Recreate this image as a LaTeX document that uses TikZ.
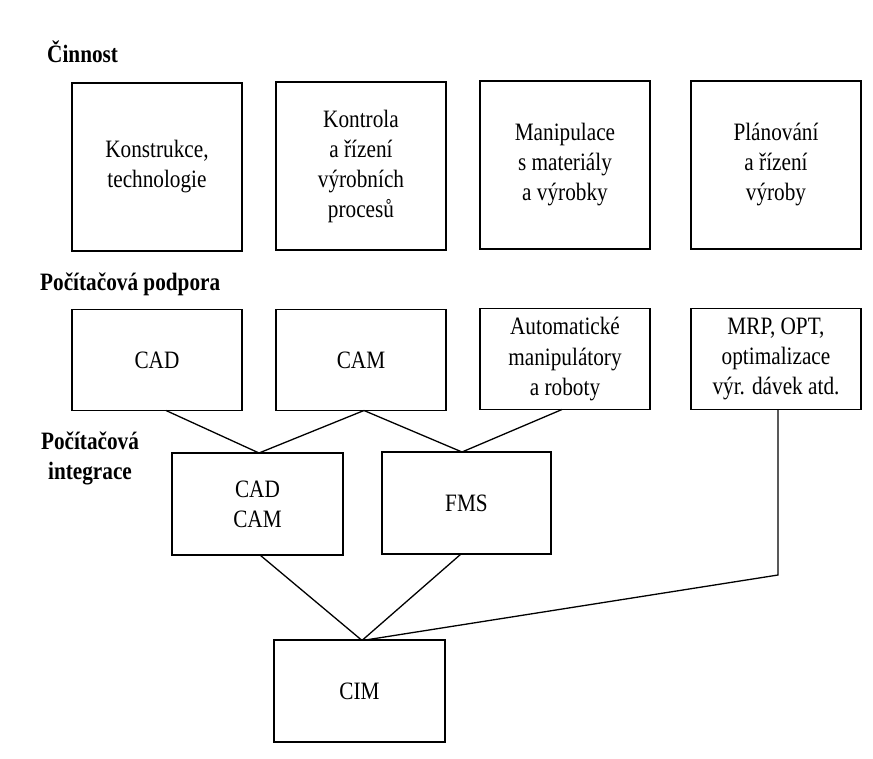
\documentclass[tikz,border=0pt]{standalone}
\usepackage{fontspec}
\setmainfont{Liberation Serif}[FakeStretch=0.85]
\begin{document}
\begin{tikzpicture}[x=1pt,y=-1pt,
  box/.style={draw, line width=1.4pt, align=center, inner sep=0pt, outer sep=0pt,
    font=\fontsize{25}{30}\selectfont},
  tallbox/.style={box, minimum width=170pt, minimum height=168pt},
  lowbox/.style={box, minimum width=170pt, minimum height=101pt},
  heading/.style={font=\fontsize{25}{30}\selectfont\bfseries, inner sep=0pt, align=center},
  link/.style={line width=1.3pt}]
\useasboundingbox (0,0) rectangle (873,758);

% section headings
\node[heading, anchor=base west] (h1) at (47,62) {Činnost};
\node[heading, anchor=base west] (h2) at (40,290) {Počítačová podpora};
\node[heading] (h3) at (90,458) {Počítačová\\integrace};

% activities
\node[tallbox] (konstr) at (157,167) {Konstrukce,\\technologie};
\node[tallbox] (kontr) at (361,166) {Kontrola\\a řízení\\výrobních\\procesů};
\node[tallbox] (manip) at (565,165) {Manipulace\\s materiály\\a výrobky};
\node[tallbox] (plan) at (776,165) {Plánování\\a řízení\\výroby};

% computer support
\node[lowbox] (cad) at (157,360) {CAD};
\node[lowbox] (cam) at (361,360) {CAM};
\node[lowbox] (auto) at (565,359) {Automatické\\manipulátory\\a roboty};
\node[lowbox] (mrp) at (776,359) {MRP, OPT,\\optimalizace\\výr. dávek atd.};

% computer integration
\node[lowbox, minimum width=171pt, minimum height=102pt] (cadcam) at (257.5,504) {CAD\\CAM};
\node[lowbox, minimum width=169pt, minimum height=102pt] (fms) at (466.5,503) {FMS};
\node[lowbox, minimum width=171pt, minimum height=102pt] (cim) at (359.5,691) {CIM};

% connectors
\draw[link] ([xshift=9pt]cad.south) -- ([xshift=1.5pt]cadcam.north);
\draw[link] ([xshift=3pt]cam.south) -- ([xshift=1.5pt]cadcam.north);
\draw[link] ([xshift=3pt]cam.south) -- ([xshift=-4.5pt]fms.north);
\draw[link] ([xshift=-3pt]auto.south) -- ([xshift=-4.5pt]fms.north);
\draw[link] ([xshift=2.5pt]cadcam.south) -- ([xshift=2pt]cim.north);
\draw[link] ([xshift=-5.5pt]fms.south) -- ([xshift=3pt]cim.north);
\coordinate (bend) at (778,575);
\draw[link] ([xshift=2pt]mrp.south) -- (bend) -- ([xshift=6pt]cim.north);
\end{tikzpicture}
\end{document}
